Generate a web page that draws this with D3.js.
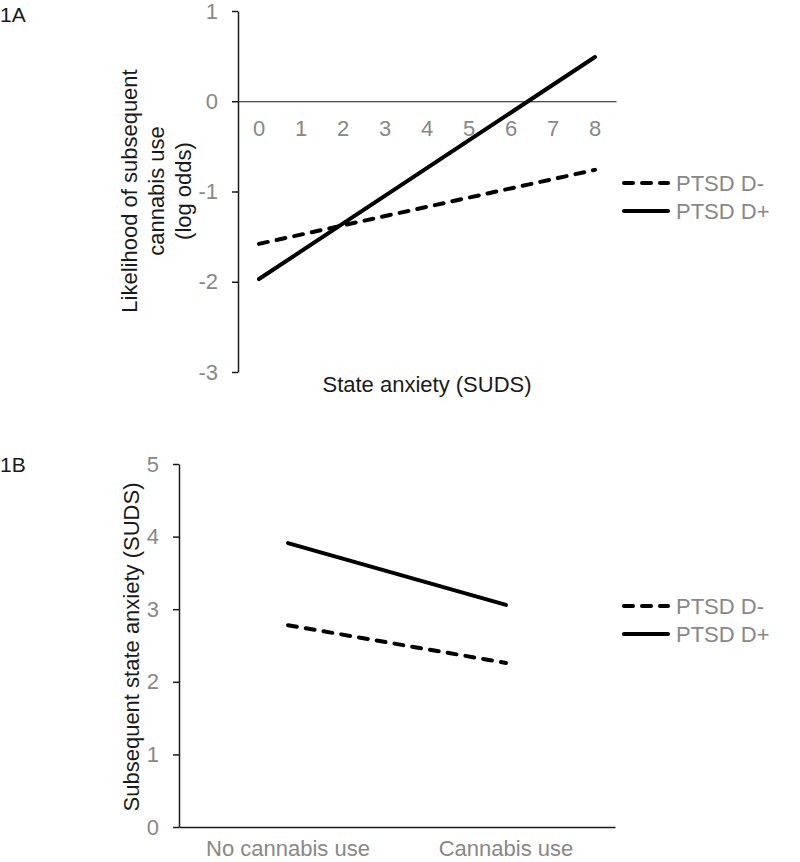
<!DOCTYPE html>
<html>
<head>
<meta charset="utf-8">
<style> body { margin: 0; background: #fff; } text { font-family: "Liberation Sans", Arial, sans-serif; } </style>
<script src="https://cdnjs.cloudflare.com/ajax/libs/d3/7.8.5/d3.min.js"></script>
</head>
<body>
<div id="fig"></div>
<script>
// panel A: log odds of later cannabis use by state anxiety
const anxietyLevels = [0, 1, 2, 3, 4, 5, 6, 7, 8];
const aTicks = [1, 0, -1, -2, -3];
const aDminus = [[0, -1.58], [8, -0.76]];
const aDplus = [[0, -1.97], [8, 0.49]];

// panel B: later anxiety by cannabis use
const useCats = ["No cannabis use", "Cannabis use"];
const bTicks = [0, 1, 2, 3, 4, 5];
const bDminus = [["No cannabis use", 2.78], ["Cannabis use", 2.26]];
const bDplus = [["No cannabis use", 3.91], ["Cannabis use", 3.06]];

const groups = ["PTSD D-", "PTSD D+"];

const W = 800, H = 862;
const grey = "#888", ink = "#1a1a1a";

const svg = d3.select("#fig").append("svg")
    .attr("width", W).attr("height", H)
    .attr("viewBox", [0, 0, W, H]);

function styleAxis(g, fs) {
    g.selectAll(".domain").attr("stroke", ink).attr("stroke-width", 1.5);
    g.selectAll(".tick line").attr("stroke", ink).attr("stroke-width", 1.5);
    g.selectAll(".tick text").attr("fill", grey)
        .style("font-size", fs + "px").style("font-family", "'Liberation Sans', Arial, sans-serif");
}

function legend(x, y) {
    const lg = svg.append("g").attr("transform", `translate(${x},${y})`);
    groups.forEach((name, i) => {
        lg.append("line")
            .attr("x1", 0).attr("x2", 44)
            .attr("y1", i * 28).attr("y2", i * 28)
            .attr("stroke", "#000").attr("stroke-width", 4)
            .attr("stroke-linecap", "round")
            .attr("stroke-dasharray", i == 0 ? "9,9" : null);
        lg.append("text")
            .attr("x", 52).attr("y", i * 28).attr("dy", "0.35em")
            .attr("fill", grey).style("font-size", "22px")
            .text(name);
    });
}

function series(pts, x, y, dashed) {
    const line = d3.line().x(d => x(d[0]) + x.bandwidth() / 2).y(d => y(d[1]));
    svg.append("path")
        .attr("d", line(pts))
        .attr("fill", "none")
        .attr("stroke", "#000").attr("stroke-width", 4)
        .attr("stroke-linecap", "round")
        .attr("stroke-dasharray", dashed ? "9,9" : null);
}

const fmt = d => String(d);

// ---------- 1A ----------
const xA = d3.scaleBand().domain(anxietyLevels).range([238, 616]);
const yA = d3.scaleLinear().domain([-3, 1]).range([372, 11]);

svg.append("g").attr("transform", "translate(238,0)")
    .call(d3.axisLeft(yA).tickValues(aTicks).tickFormat(fmt).tickSize(6).tickSizeOuter(0).tickPadding(14))
    .call(g => styleAxis(g, 22));

svg.append("g").attr("transform", `translate(0,${yA(0)})`)
    .call(d3.axisBottom(xA).tickSize(0).tickPadding(19))
    .call(g => styleAxis(g, 22))
    .call(g => g.select(".domain").attr("stroke-width", 1.2));

series(aDminus, xA, yA, true);
series(aDplus, xA, yA, false);

svg.append("text").attr("x", 0).attr("y", 22).attr("fill", ink)
    .style("font-size", "21px").text("1A");

const aLabel = ["Likelihood of subsequent", "cannabis use", "(log odds)"];
aLabel.forEach((s, i) => {
    svg.append("text")
        .attr("transform", `translate(${129 + i * 27},191) rotate(-90)`)
        .attr("text-anchor", "middle").attr("dy", "0.35em")
        .attr("fill", ink).style("font-size", "22px")
        .text(s);
});

svg.append("text").attr("x", 427).attr("y", 392)
    .attr("text-anchor", "middle").attr("fill", ink)
    .style("font-size", "22px").text("State anxiety (SUDS)");

legend(624, 183);

// ---------- 1B ----------
const xB = d3.scaleBand().domain(useCats).range([179, 615]);
const yB = d3.scaleLinear().domain([0, 5]).range([827, 464]);

svg.append("g").attr("transform", "translate(179,0)")
    .call(d3.axisLeft(yB).tickValues(bTicks).tickFormat(fmt).tickSize(6).tickSizeOuter(0).tickPadding(14))
    .call(g => styleAxis(g, 22));

svg.append("g").attr("transform", "translate(0,827)")
    .call(d3.axisBottom(xB).tickSize(0).tickPadding(13))
    .call(g => styleAxis(g, 22));

series(bDminus, xB, yB, true);
series(bDplus, xB, yB, false);

svg.append("text").attr("x", 0).attr("y", 472).attr("fill", ink)
    .style("font-size", "21px").text("1B");

svg.append("text")
    .attr("transform", "translate(131,647) rotate(-90)")
    .attr("text-anchor", "middle").attr("dy", "0.35em")
    .attr("fill", ink).style("font-size", "22px")
    .text("Subsequent state anxiety (SUDS)");

legend(624, 606);
</script>
</body>
</html>
